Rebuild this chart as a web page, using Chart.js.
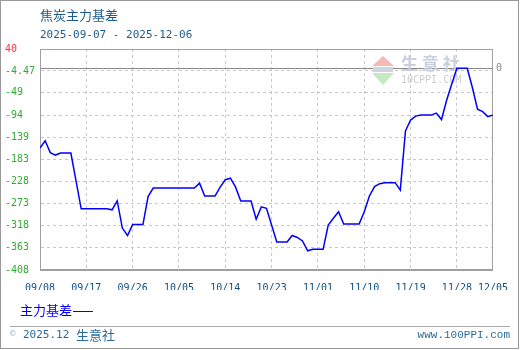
<!DOCTYPE html>
<html>
<head>
<meta charset="utf-8">
<script src="https://cdn.jsdelivr.net/npm/chart.js@4/dist/chart.umd.min.js"></script>
<style>
  html, body { margin: 0; padding: 0; background: #fff; }
  canvas { display: block; }
</style>
</head>
<body>
<canvas id="basisChart" width="520" height="350"></canvas>
<script>
// 焦炭主力基差, 2025-09-07 ~ 2025-12-06
const dates = ['09/08','09/09','09/10','09/11','09/12','09/14','09/16','09/21','09/22','09/23',
  '09/24','09/25','09/26','09/28','09/29','09/30','10/08','10/09','10/10','10/12',
  '10/13','10/14','10/15','10/16','10/17','10/19','10/20','10/21','10/22','10/24',
  '10/26','10/27','10/28','10/29','10/30','10/31','11/02','11/03','11/04','11/05',
  '11/06','11/09','11/10','11/11','11/12','11/13','11/14','11/16','11/17','11/18',
  '11/19','11/20','11/21','11/23','11/24','11/25','11/26','11/27','11/28','11/30',
  '12/01','12/02','12/03','12/04','12/05'];
const basis = [-161,-146,-170,-175,-171,-171,-284,-284,-286,-268,
  -323,-338,-316,-316,-259,-242,-242,-232,-258,-258,
  -240,-225,-222,-240,-268,-268,-305,-280,-283,-351,
  -351,-338,-342,-349,-369,-366,-366,-317,-303,-290,
  -315,-315,-290,-258,-239,-233,-231,-231,-246,-126,
  -104,-96,-94,-94,-90,-103,-64,-31,1,1,
  -38,-82,-87,-97,-94];
const xTickLabels = ['09/08','09/17','09/26','10/05','10/14','10/23','11/01','11/10','11/19','11/28','12/05'];
const yTickLabels = ['40','-4.47','-49','-94','-139','-183','-228','-273','-318','-363','-408'];

function dayOf(s) {
    const [m, d] = s.split('/').map(Number);
    return Math.round((Date.UTC(2025, m - 1, d) - Date.UTC(2025, 8, 8)) / 86400000);
}

const MONO = '"DejaVu Sans Mono", "Liberation Mono", monospace';
const CJK = '"Noto Sans CJK SC", "Noto Sans", sans-serif';

const decorations = {
    id: 'decorations',
    beforeDatasetsDraw(chart) {
        const ctx = chart.ctx;
        const a = chart.chartArea;
        ctx.save();
        // watermark logo
        ctx.fillStyle = '#f6b9b9';
        ctx.beginPath();
        ctx.moveTo(383, 56); ctx.lineTo(372, 66); ctx.lineTo(394, 66); ctx.closePath();
        ctx.fill();
        ctx.fillStyle = '#c4e9c4';
        ctx.beginPath();
        ctx.moveTo(372, 73); ctx.lineTo(394, 73); ctx.lineTo(383, 85); ctx.closePath();
        ctx.fill();
        ctx.fillStyle = '#d0d4dc';
        ctx.fillRect(373, 67, 20, 5);
        ctx.fillStyle = '#c9cfdf';
        ctx.font = 'bold 17px ' + CJK;
        ctx.textBaseline = 'middle';
        ctx.fillText('生 意 社', 401, 64);
        ctx.fillStyle = '#cccccc';
        ctx.font = '10px ' + MONO;
        ctx.fillText('10CPPI.COM', 401, 80);
        // plot frame
        ctx.strokeStyle = '#a0a0a0';
        ctx.lineWidth = 1;
        ctx.strokeRect(a.left + 0.5, a.top + 0.5, a.right - a.left - 1, a.bottom - a.top - 1);
        ctx.restore();
    },
    afterDraw(chart) {
        const ctx = chart.ctx;
        ctx.save();
        ctx.textBaseline = 'middle';
        ctx.fillStyle = '#1d5c8a';
        ctx.font = '13px ' + CJK;
        ctx.fillText('焦炭主力基差', 40, 15);
        ctx.font = '11px ' + MONO;
        ctx.fillText('2025-09-07 - 2025-12-06', 40, 35);
        // legend
        ctx.fillStyle = '#0000ff';
        ctx.font = '13px ' + CJK;
        ctx.fillText('主力基差', 20, 310);
        ctx.fillRect(73, 311, 20, 1);
        // footer
        ctx.strokeStyle = '#aaaaaa';
        ctx.lineWidth = 1;
        ctx.beginPath();
        ctx.moveTo(10, 326.5); ctx.lineTo(510, 326.5);
        ctx.stroke();
        ctx.fillStyle = '#9fb6c8';
        ctx.font = '9px ' + MONO;
        ctx.fillText('©', 10, 334);
        ctx.fillStyle = '#2a6b9c';
        ctx.font = '11px ' + MONO;
        ctx.fillText('2025.12', 23, 335);
        ctx.font = '13px ' + CJK;
        ctx.fillText('生意社', 76, 335);
        ctx.font = '11px "Liberation Mono", monospace';
        ctx.textAlign = 'right';
        ctx.fillText('www.100PPI.com', 510, 335);
        // outer frame
        ctx.strokeStyle = '#999999';
        ctx.strokeRect(0.5, 0.5, 518, 348);
        ctx.restore();
    }
};

const ctx = document.getElementById('basisChart').getContext('2d');
new Chart(ctx, {
    type: 'line',
    data: {
        datasets: [{
            label: '主力基差',
            data: dates.map((d, i) => ({ x: dayOf(d), y: basis[i] })),
            borderColor: '#0000ff',
            borderWidth: 1.5,
            pointRadius: 0,
            tension: 0,
            fill: false
        }]
    },
    options: {
        responsive: false,
        animation: false,
        devicePixelRatio: 1,
        layout: { padding: { left: 5, top: 49, right: 0, bottom: 60 } },
        plugins: { legend: { display: false }, tooltip: { enabled: false } },
        scales: {
            x: {
                type: 'linear',
                min: 0,
                max: 88,
                afterBuildTicks: s => { s.ticks = xTickLabels.map(l => ({ value: dayOf(l) })); },
                afterFit: s => { s.height = 20; },
                ticks: {
                    autoSkip: false,
                    maxRotation: 0,
                    padding: 12,
                    color: '#0f4f80',
                    font: { family: MONO, size: 10 },
                    callback: v => xTickLabels.find(l => dayOf(l) === v)
                },
                grid: { color: '#c8c8c8', drawTicks: false },
                border: { color: '#a0a0a0', dash: [3, 3] }
            },
            y: {
                min: -408,
                max: 40,
                afterBuildTicks: s => { s.ticks = yTickLabels.map(l => ({ value: parseFloat(l) })); },
                afterFit: s => { s.width = 35; },
                ticks: {
                    crossAlign: 'far',
                    color: c => c.tick && c.tick.value === 40 ? '#ff3333' : '#33aa33',
                    font: { family: MONO, size: 10 },
                    callback: v => yTickLabels.find(l => parseFloat(l) === v)
                },
                grid: { color: '#c8c8c8', drawTicks: false },
                border: { color: '#a0a0a0', dash: [3, 3] }
            },
            y2: {
                position: 'right',
                min: -408,
                max: 40,
                afterBuildTicks: s => { s.ticks = [{ value: 0 }]; },
                afterFit: s => { s.width = 20; },
                ticks: {
                    padding: 3,
                    color: '#888888',
                    font: { family: MONO, size: 10 },
                    callback: () => '0'
                },
                grid: { color: '#888888', drawTicks: false },
                border: { display: false }
            }
        }
    },
    plugins: [decorations]
});
</script>
</body>
</html>
